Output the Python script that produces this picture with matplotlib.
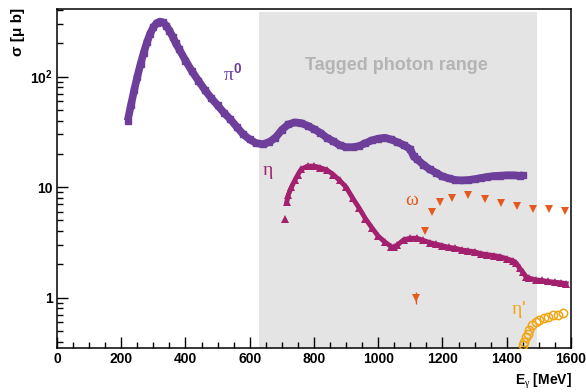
import matplotlib
matplotlib.use("Agg")
import matplotlib.pyplot as plt
from matplotlib.ticker import FixedLocator, FixedFormatter, LogLocator, NullFormatter, MultipleLocator

plt.rcParams.update({
    "font.family": ["Liberation Sans", "DejaVu Sans"],
    "font.weight": "bold", "font.size": 10,
    "mathtext.fontset": "custom",
    "mathtext.rm": "Liberation Serif:weight=normal",
    "mathtext.it": "Liberation Sans:italic",
    "mathtext.bf": "Liberation Sans:bold",
})

# pi0 photoproduction (E_gamma [MeV], sigma [mub])
PI0_E = [220, 230, 240, 250, 260, 270, 280, 290, 300, 310, 320, 330, 340, 350, 360, 370, 380,
         400, 420, 440, 460, 480, 500, 520, 540, 560, 580, 600, 620, 640, 660, 680, 700, 720,
         740, 760, 780, 800, 820, 840, 860, 880, 900, 920, 940, 960, 980, 1000, 1020, 1040,
         1060, 1080, 1100, 1110, 1120, 1140, 1160, 1180, 1200, 1220, 1240, 1260, 1280, 1300,
         1320, 1340, 1360, 1380, 1400, 1420, 1440, 1450]
PI0_S = [40, 55, 75, 100, 130, 165, 205, 245, 280, 305, 315, 310, 290, 260, 230, 200, 178,
         140, 112, 92, 76, 64, 55, 47, 41, 35, 30, 27, 25, 24.5, 25.5, 28, 33, 37,
         38.5, 38, 36, 33.5, 31, 28, 26, 24, 23, 23, 23.5, 25, 26.5, 27.5, 28, 27,
         25.5, 24, 22, 19, 18, 16, 14.5, 13.5, 12.5, 12, 11.6, 11.5, 11.6, 11.8,
         12.1, 12.4, 12.6, 12.7, 12.8, 12.8, 12.7, 12.8]

# eta
ETA_E = [710, 715, 720, 730, 740, 750, 760, 780, 800, 820, 840, 860, 880, 900, 920, 940, 960,
         980, 1000, 1020, 1040, 1050, 1060, 1080, 1100, 1120, 1140, 1160, 1180, 1200, 1220,
         1240, 1260, 1280, 1300, 1320, 1340, 1360, 1380, 1400, 1420, 1430, 1440, 1450, 1460,
         1470, 1490, 1510, 1530, 1550, 1570, 1585]
ETA_S = [5.1, 7.3, 8.5, 10, 11.5, 13, 14.5, 15.5, 15.5, 15, 14.3, 13, 11.5, 10, 8, 6.5, 5.2,
         4.3, 3.6, 3.2, 2.9, 2.85, 3.0, 3.35, 3.45, 3.45, 3.3, 3.15, 3.05, 2.95, 2.85,
         2.8, 2.7, 2.65, 2.6, 2.5, 2.45, 2.4, 2.35, 2.25, 2.15, 2.05, 1.85, 1.7, 1.55,
         1.5, 1.45, 1.43, 1.4, 1.38, 1.36, 1.34]

# omega
OMG_E = [1117, 1145, 1167, 1193, 1231, 1281, 1331, 1381, 1431, 1483, 1532, 1582]
OMG_S = [1.0, 4.0, 5.9, 7.3, 7.9, 8.5, 7.8, 7.2, 6.7, 6.3, 6.4, 6.1]
OMG_ERR = [0.12, 0, 0, 0, 0, 0, 0, 0, 0, 0, 0, 0]

# eta prime
ETAP_E = [1450, 1455, 1460, 1465, 1470, 1480, 1490, 1500, 1515, 1530, 1545, 1560, 1575]
ETAP_S = [0.37, 0.40, 0.44, 0.47, 0.51, 0.56, 0.60, 0.63, 0.65, 0.67, 0.69, 0.70, 0.72]

C_PI0 = "#6e3f9a"
C_ETA = "#a3206f"
C_OMG = "#e45a1e"
C_ETAP = "#f0a514"

fig = plt.figure(figsize=(5.86, 3.92), dpi=100)
ax = fig.add_axes([0.0973, 0.1122, 0.877, 0.865])
ax.set_yscale("log")
ax.set_xlim(0, 1600)
ax.set_ylim(0.35, 410)

ax.axvspan(630, 1495, ymin=0, ymax=0.991, color="#e4e4e4", lw=0, zorder=0)
ax.text(1055, 126, "Tagged photon range", color="#b4b4b4", fontsize=13,
        fontweight="bold", ha="center", va="center")

ax.plot(PI0_E, PI0_S, color=C_PI0, lw=5.5, solid_capstyle="butt", zorder=3)
ax.plot(PI0_E, PI0_S, "s", color=C_PI0, ms=5, zorder=3)
ax.plot(ETA_E[1:], ETA_S[1:], color=C_ETA, lw=3.5, zorder=3)
ax.plot(ETA_E, ETA_S, "^", color=C_ETA, ms=6, mew=0, zorder=3)
ax.errorbar(OMG_E, OMG_S, yerr=OMG_ERR, fmt="v", color=C_OMG, ms=6, mew=0,
            elinewidth=1, capsize=2.5, zorder=3)
ax.plot(ETAP_E, ETAP_S, "o", mfc="none", mec=C_ETAP, mew=1.1, ms=6, zorder=3)

lbl = dict(fontsize=14, ha="center", va="center", fontweight="normal")
ax.text(546, 108, r"$\mathrm{π}^{\mathbf{0}}$", color=C_PI0, **lbl)
ax.text(656, 13.7, r"$\mathrm{η}$", color=C_ETA, **lbl)
ax.text(1104, 7.6, r"$\mathrm{ω}$", color=C_OMG, **lbl)
ax.text(1436, 0.78, r"$\mathrm{η}$'", color=C_ETAP, **lbl)

ax.xaxis.set_major_locator(MultipleLocator(200))
ax.xaxis.set_minor_locator(MultipleLocator(50))
ax.yaxis.set_major_locator(FixedLocator([1, 10, 100]))
ax.yaxis.set_major_formatter(FixedFormatter(["1", "10", r"$\mathbf{10^{2}}$"]))
ax.yaxis.set_minor_locator(LogLocator(base=10, subs=range(2, 10)))
ax.yaxis.set_minor_formatter(NullFormatter())
ax.tick_params(which="both", direction="in", top=False, right=False, labelsize=10, width=1)
ax.tick_params(which="major", length=8, pad=3)
ax.tick_params(which="minor", length=4)
for lab in ax.get_xticklabels() + ax.get_yticklabels():
    lab.set_fontweight("bold")
for sp in ax.spines.values():
    sp.set_linewidth(1.1)

fig.text(0.031, 0.98, "σ [μ b]", rotation=90, ha="center", va="top", fontsize=11,
         fontweight="bold")
fig.text(0.975, 0.028, r"E$_{\mathrm{γ}}$ [MeV]", ha="right", va="center", fontsize=10,
         fontweight="bold")

fig.savefig("out.png", dpi=100)
